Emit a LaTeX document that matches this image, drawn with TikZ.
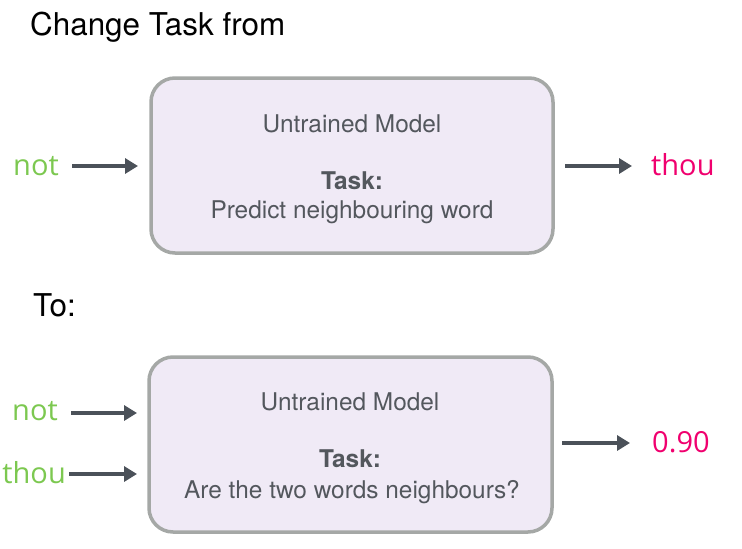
\documentclass[tikz,border=0pt]{standalone}
\usepackage{fontspec}
\setmainfont{TeX Gyre Heros}
\newfontfamily\wordfont{Open Sans}
\usetikzlibrary{arrows.meta}
\definecolor{boxfill}{HTML}{F0EAF6}
\definecolor{boxline}{HTML}{A5A8A6}
\definecolor{txtgray}{HTML}{53575D}
\definecolor{arrowgray}{HTML}{4B5159}
\definecolor{ingreen}{HTML}{7CC850}
\definecolor{outpink}{HTML}{F0006E}
\tikzset{
  modelbox/.style={draw=boxline, line width=3.5pt, fill=boxfill, rounded corners=24pt},
  heading/.style={anchor=base west, inner sep=0pt, font=\fontsize{31.4}{36}\selectfont, text=black},
  boxtext/.style={anchor=base, inner sep=0pt, font=\fontsize{24.4}{28}\selectfont, text=txtgray},
  boxbold/.style={boxtext, font=\fontsize{24.4}{28}\selectfont\bfseries},
  inword/.style={anchor=base east, inner sep=0pt, font=\wordfont\fontsize{29}{34}\selectfont, text=ingreen},
  outword/.style={anchor=base west, inner sep=0pt, font=\wordfont\fontsize{29}{34}\selectfont, text=outpink},
  flow/.style={draw=arrowgray, line width=4pt, -{Triangle[length=13pt,width=15pt]}}
}
\begin{document}
\begin{tikzpicture}[x=1pt,y=-1pt]
\useasboundingbox (0,0) rectangle (742,549);
% headings
\node[heading] (h1) at (30,35) {Change Task from};
\node[heading] (h2) at (33,316) {To:};
% box 1
\draw[modelbox] (151,78) rectangle (553,253);
\node[boxtext] (m1) at (352,132) {Untrained Model};
\node[boxbold] (t1) at (352,189) {Task:};
\node[boxtext] (d1) at (352,218) {Predict neighbouring word};
\node[inword] (in1) at (59,175) {not};
\node[outword] (out1) at (651,175) {thou};
\coordinate (a1s) at (72,166);
\coordinate (a1e) at (138,166);
\coordinate (b1s) at (565,166);
\coordinate (b1e) at (632,166);
\draw[flow] (a1s) -- (a1e);
\draw[flow] (b1s) -- (b1e);
% box 2
\draw[modelbox] (149,357) rectangle (552,532);
\node[boxtext] (m2) at (350,410) {Untrained Model};
\node[boxbold] (t2) at (350,467) {Task:};
\node[boxtext] (d2) at (352,498) {Are the two words neighbours?};
\node[inword] (in2) at (58,420) {not};
\node[inword] (in3) at (66,483) {thou};
\node[outword] (out2) at (652,452) {0.90};
\coordinate (a2s) at (71,413);
\coordinate (a2e) at (137,413);
\coordinate (a3s) at (69,474);
\coordinate (a3e) at (137,474);
\coordinate (b2s) at (562,443);
\coordinate (b2e) at (630,443);
\draw[flow] (a2s) -- (a2e);
\draw[flow] (a3s) -- (a3e);
\draw[flow] (b2s) -- (b2e);
\end{tikzpicture}
\end{document}
